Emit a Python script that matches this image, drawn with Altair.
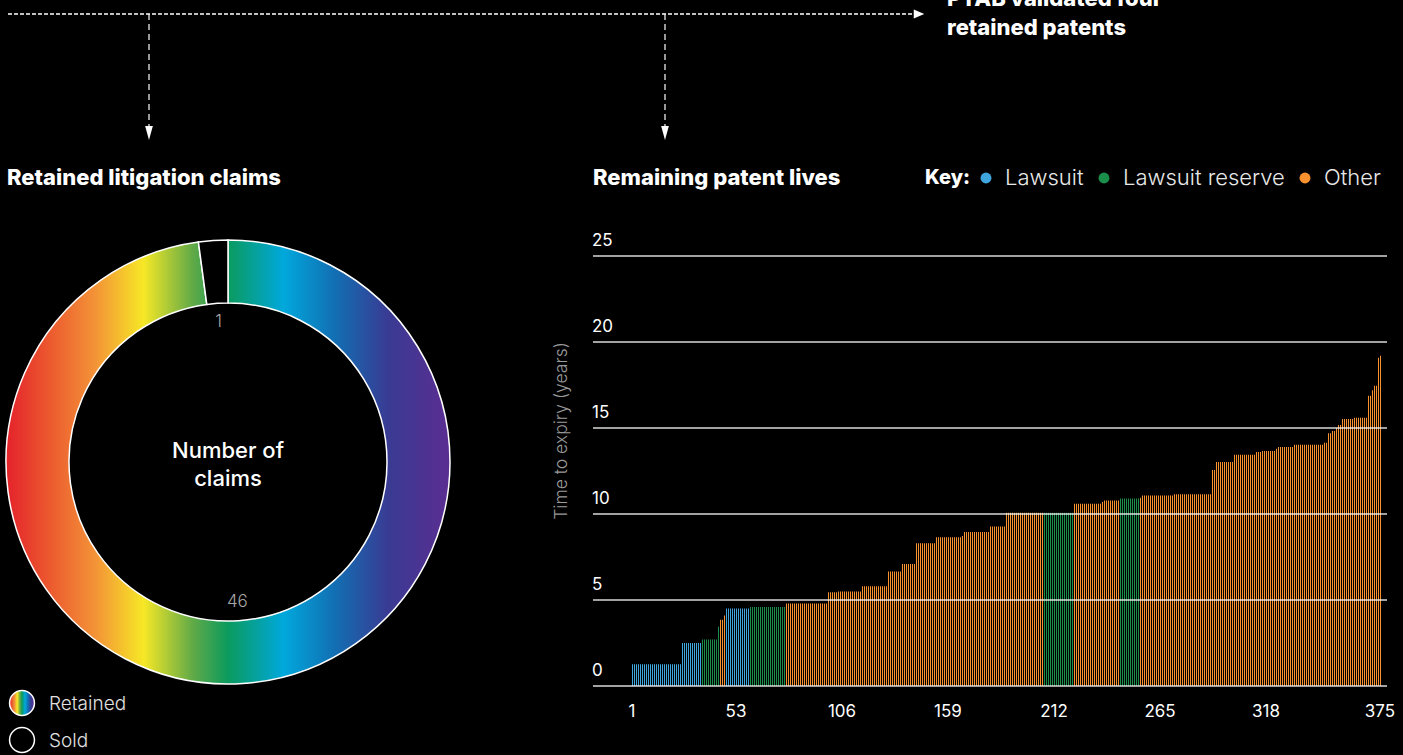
import math
import altair as alt
import pandas as pd

FONT = "Inter"

# ---------------- data ----------------
# Remaining patent lives: sorted patents as runs of (count of bars, years to expiry, type)
run_counts = [25, 10, 8, 1, 2, 1, 12, 18, 21, 5, 12, 13, 7, 7, 10, 13, 1, 13, 8, 19,
              15, 14, 1, 8, 10, 1, 16, 19, 2, 9, 11, 3, 7, 1, 8, 15, 2, 2, 2, 1,
              2, 6, 7, 2, 1, 2, 1, 1]
run_years = [1.27, 2.5, 2.7, 3.45, 3.85, 4.1, 4.5, 4.6, 4.8, 5.45, 5.5, 5.8, 6.65, 7.1,
             8.3, 8.65, 8.72, 8.95, 9.28, 10.07, 10.07, 10.6, 10.7, 10.78, 10.9, 10.95,
             11.07, 11.15, 12.56, 13.03, 13.44, 13.6, 13.67, 13.79, 13.9, 14.02, 14.14,
             14.7, 14.83, 15.0, 15.18, 15.53, 15.59, 16.87, 17.2, 17.45, 19.08, 19.2]
run_types = ["Lawsuit", "Lawsuit", "Lawsuit reserve", "Lawsuit reserve", "Other", "Other",
             "Lawsuit", "Lawsuit reserve", "Other", "Other", "Other", "Other", "Other",
             "Other", "Other", "Other", "Other", "Other", "Other", "Other",
             "Lawsuit reserve", "Other", "Other", "Other", "Lawsuit reserve", "Other",
             "Other", "Other", "Other", "Other", "Other", "Other", "Other", "Other",
             "Other", "Other", "Other", "Other", "Other", "Other", "Other", "Other",
             "Other", "Other", "Other", "Other", "Other", "Other"]
type_names = ["Lawsuit", "Lawsuit reserve", "Other"]
type_colors = ["#3ea6dd", "#1a8f4c", "#f8922f"]

x_ticks = [1, 53, 106, 159, 212, 265, 318, 375]
y_ticks = [0, 5, 10, 15, 20, 25]

# Retained litigation claims
claim_status = ["Retained", "Sold"]
claim_counts = [46, 1]

# ---------------- tables ----------------
rows = []
i = 1
for c, v, t in zip(run_counts, run_years, run_types):
    for _ in range(c):
        rows.append({"idx": i, "years": v, "type": t})
        i += 1
bars_df = pd.DataFrame(rows)

xs = alt.Scale(domain=[-18.5, 378.5], range=[593, 1387], nice=False, zero=False,
               round=True, padding=0)
ys = alt.Scale(domain=[0, 25], range=[686, 256], nice=False, zero=False, padding=0)

rainbow = {
    "gradient": "linear", "x1": 0, "y1": 0, "x2": 1, "y2": 0,
    "stops": [
        {"offset": 0.0, "color": "#e4222b"},
        {"offset": 0.1, "color": "#ec5a2f"},
        {"offset": 0.2, "color": "#f39237"},
        {"offset": 0.31, "color": "#f6e826"},
        {"offset": 0.42, "color": "#62aa47"},
        {"offset": 0.5, "color": "#0b9a5e"},
        {"offset": 0.625, "color": "#00a8dc"},
        {"offset": 0.74, "color": "#126fb3"},
        {"offset": 0.86, "color": "#393b93"},
        {"offset": 1.0, "color": "#5b2d91"},
    ],
}

one = pd.DataFrame({"a": [0]})


def label(text, x, y, size=20, weight="normal", color="white", align="left",
          baseline="middle", angle=0):
    return alt.Chart(pd.DataFrame({"t": [text]})).mark_text(
        align=align, baseline=baseline, fontSize=size, fontWeight=weight,
        color=color, font=FONT, angle=angle
    ).encode(x=alt.value(x), y=alt.value(y), text="t:N")


def rule(x, y, x2=None, y2=None, dash=None, width=1.2, color="white", opacity=1.0):
    enc = {"x": alt.value(x), "y": alt.value(y)}
    if x2 is not None:
        enc["x2"] = alt.value(x2)
    if y2 is not None:
        enc["y2"] = alt.value(y2)
    kw = dict(color=color, strokeWidth=width, opacity=opacity)
    if dash:
        kw["strokeDash"] = dash
    return alt.Chart(one).mark_rule(**kw).encode(**enc)


def arrow(x, y, shape, size):
    return alt.Chart(one).mark_point(
        shape=shape, size=size, filled=True, color="white", opacity=1, strokeWidth=0
    ).encode(x=alt.value(x), y=alt.value(y))


layers = []

# ---- top annotation ----
layers.append(rule(8, 14, x2=914, dash=[4, 2], width=1.3))
layers.append(rule(149, 14, y2=128, dash=[6, 4], width=1.2))
layers.append(rule(665, 14, y2=128, dash=[6, 4], width=1.2))
layers.append(arrow(919, 14, "M-1,-0.85L1,0L-1,0.85Z", 110))
layers.append(arrow(149, 133, "M-0.55,-1L0.55,-1L0,1Z", 196))
layers.append(arrow(665, 133, "M-0.55,-1L0.55,-1L0,1Z", 196))
layers.append(label("PTAB validated four", 947, 6, size=22, weight=800, baseline="alphabetic"))
layers.append(label("retained patents", 947, 35, size=22, weight=800, baseline="alphabetic"))

# ---- titles ----
layers.append(label("Retained litigation claims", 7, 178, size=22, weight=800))
layers.append(label("Remaining patent lives", 593, 178, size=22, weight=800))
layers.append(label("Key:", 925, 178, size=20, weight=800))

# key legend
key_x = [986, 1104, 1305]
for name, col, kx in zip(type_names, type_colors, key_x):
    layers.append(alt.Chart(one).mark_circle(size=120, color=col, opacity=1).encode(
        x=alt.value(kx), y=alt.value(178)))
    layers.append(label(name, kx + 19, 178, size=22, weight=300, color="#e8e8e8"))

# ---- donut ----
donut_df = pd.DataFrame({"status": claim_status, "count": claim_counts,
                         "order": list(range(len(claim_status)))})
theta_scale = alt.Scale(domain=[0, sum(claim_counts)], range=[0, 2 * math.pi])
dbase = alt.Chart(donut_df).transform_window(
    end="sum(count)", sort=[alt.SortField("order")], frame=[None, 0]
).transform_calculate(start="datum.end - datum.count",
                      mid="datum.end - datum.count / 2")
for status, fill in [("Retained", rainbow), ("Sold", "black")]:
    layers.append(
        dbase.transform_filter(alt.datum.status == status).mark_arc(
            outerRadius=222, innerRadius=159, fill=fill, stroke="white", strokeWidth=1.5
        ).encode(
            theta=alt.Theta("start:Q", scale=theta_scale),
            theta2="end:Q",
            x=alt.value(228), y=alt.value(462),
        )
    )
layers.append(
    dbase.mark_text(radius=140, fontSize=17, font=FONT, fontWeight=300,
                    fill="#a8a8a8").encode(
        theta=alt.Theta("mid:Q", scale=theta_scale),
        x=alt.value(228), y=alt.value(462),
        text="count:Q",
    )
)
layers.append(label("Number of", 228, 451, size=22, weight=500, align="center"))
layers.append(label("claims", 228, 479, size=22, weight=500, align="center"))

# left legend
layers.append(alt.Chart(one).mark_circle(size=620, fill=rainbow, stroke="white",
                                         strokeWidth=1.5, opacity=1).encode(
    x=alt.value(22), y=alt.value(703)))
layers.append(alt.Chart(one).mark_circle(size=620, fill="black", stroke="white",
                                         strokeWidth=1.5, opacity=1).encode(
    x=alt.value(22), y=alt.value(740)))
layers.append(label("Retained", 49, 704, size=19, weight=300, color="#e0e0e0"))
layers.append(label("Sold", 49, 741, size=19, weight=300, color="#e0e0e0"))

# ---- bar chart ----
layers.append(
    alt.Chart(bars_df).mark_bar(opacity=1, width=1, xOffset=0.5).encode(
        x=alt.X("idx:Q", scale=xs, axis=None),
        y=alt.Y("years:Q", scale=ys, axis=None),
        y2=alt.datum(0),
        color=alt.Color("type:N", scale=alt.Scale(domain=type_names, range=type_colors),
                        legend=None),
    )
)
grid_df = pd.DataFrame({"v": y_ticks})
layers.append(
    alt.Chart(grid_df).mark_rule(color="white", strokeWidth=1.5, opacity=0.85).encode(
        y=alt.Y("v:Q", scale=ys, axis=None),
        x=alt.value(593), x2=alt.value(1387),
    )
)
layers.append(
    alt.Chart(grid_df).mark_text(align="left", baseline="alphabetic", dy=-10,
                                 fontSize=17, font=FONT, color="white").encode(
        y=alt.Y("v:Q", scale=ys, axis=None),
        x=alt.value(592),
        text="v:Q",
    )
)
xt_df = pd.DataFrame({"t": x_ticks})
layers.append(
    alt.Chart(xt_df).mark_text(align="center", baseline="middle",
                               fontSize=17, font=FONT, color="white").encode(
        x=alt.X("t:Q", scale=xs, axis=None),
        y=alt.value(712),
        text="t:Q",
    )
)
layers.append(label("Time to expiry (years)", 562, 431, size=17.5, weight=300,
                    color="#9a9a9a", align="center", angle=270))

chart = alt.layer(*layers).properties(
    width=1403, height=755, background="black", padding=0,
    autosize=alt.AutoSizeParams(type="none"),
).configure_view(stroke=None)

chart.save("out.html", embed_options={"renderer": "svg", "actions": False})
